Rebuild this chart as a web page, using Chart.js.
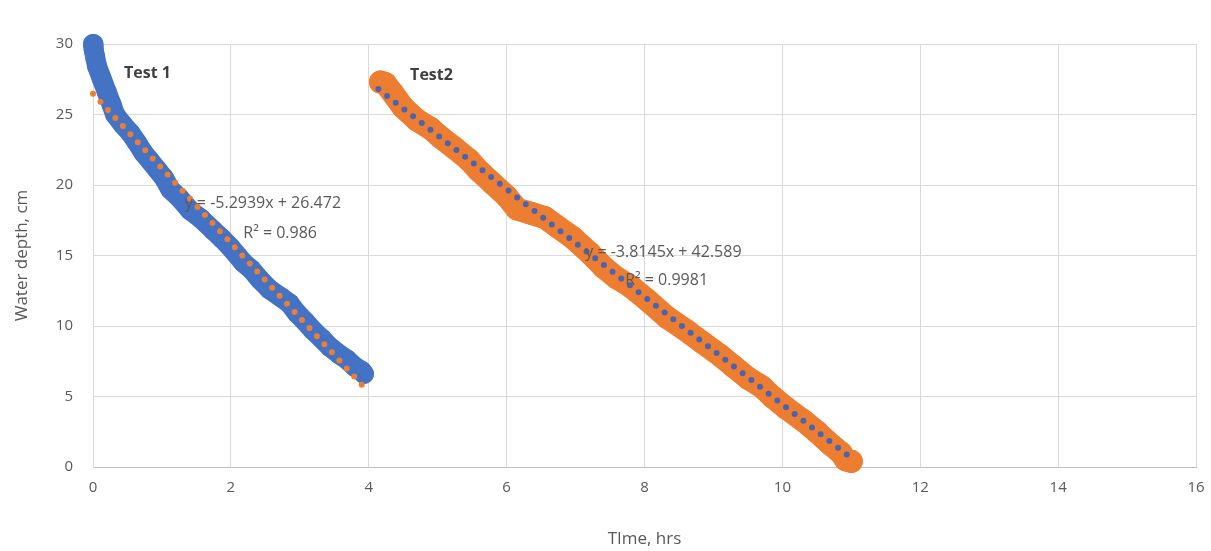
<!DOCTYPE html>
<html>
<head>
<meta charset="utf-8">
<script src="https://cdn.jsdelivr.net/npm/chart.js@4/dist/chart.umd.min.js"></script>
<style>
  html, body { margin: 0; padding: 0; background: #fff; }
  #wrap { width: 1211px; height: 551px; }
</style>
</head>
<body>
<div id="wrap"><canvas id="c" width="1211" height="551"></canvas></div>
<script>
// Test 1 (blue)
const test1X = [0.0, 0.01, 0.03, 0.06, 0.13, 0.2, 0.27, 0.32, 0.43, 0.54, 0.64, 0.73, 0.83, 0.93, 1.03, 1.12, 1.25, 1.41, 1.57, 1.74, 1.87, 1.99, 2.18, 2.3, 2.42, 2.56, 2.71, 2.85, 2.96, 3.08, 3.19, 3.32, 3.44, 3.57, 3.69, 3.8, 3.9, 3.93];
const test1Y = [30.0, 29.6, 29.1, 28.4, 27.5, 26.6, 25.7, 25.0, 24.3, 23.7, 23.0, 22.3, 21.7, 21.1, 20.5, 19.7, 19.1, 18.2, 17.6, 16.8, 16.2, 15.6, 14.5, 14.0, 13.3, 12.6, 12.1, 11.6, 10.9, 10.3, 9.7, 9.1, 8.5, 8.0, 7.6, 7.1, 6.8, 6.6];

// Test2 (orange)
const test2X = [4.17, 4.24, 4.35, 4.5, 4.7, 4.9, 5.04, 5.25, 5.45, 5.6, 5.8, 6.0, 6.15, 6.35, 6.55, 6.75, 6.95, 7.2, 7.4, 7.6, 7.8, 8.05, 8.33, 8.6, 8.85, 9.1, 9.3, 9.5, 9.7, 9.85, 10.05, 10.3, 10.5, 10.7, 10.85, 10.92, 11.0];
const test2Y = [27.3, 27.2, 26.5, 25.5, 24.6, 24.0, 23.4, 22.6, 21.8, 21.0, 20.1, 19.2, 18.3, 18.0, 17.7, 17.0, 16.3, 15.2, 14.2, 13.4, 12.8, 11.8, 10.6, 9.7, 8.8, 7.9, 7.1, 6.3, 5.7, 5.0, 4.2, 3.3, 2.5, 1.6, 1.0, 0.5, 0.4];

// linear trendlines (end points)
const trend1X = [0.0, 3.96];
const trend1Y = [26.47, 5.51];
const trend2X = [4.14, 10.95];
const trend2Y = [26.8, 0.82];

const xTicks = [0, 2, 4, 6, 8, 10, 12, 14, 16];
const yTicks = [0, 5, 10, 15, 20, 25, 30];

const labels = [
  { text: 'Test 1', x: 0.45, y: 27.9, bold: true },
  { text: 'Test2', x: 4.6, y: 27.8, bold: true },
  { text: 'y = -5.2939x + 26.472', x: 1.33, y: 18.7 },
  { text: 'R² = 0.986', x: 2.18, y: 16.6 },
  { text: 'y = -3.8145x + 42.589', x: 7.14, y: 15.2 },
  { text: 'R² = 0.9981', x: 7.72, y: 13.2 }
];

const FONT = "'Open Sans', sans-serif";
const BLUE = '#4472C4';
const ORANGE = '#ED7D31';

function pts(xs, ys) {
  return xs.map((x, i) => ({ x: x, y: ys[i] }));
}

const textPlugin = {
  id: 'chartText',
  afterDatasetsDraw(chart) {
    const ctx = chart.ctx;
    const sx = chart.scales.x, sy = chart.scales.y;
    ctx.save();
    ctx.textBaseline = 'middle';
    ctx.textAlign = 'left';
    labels.forEach(l => {
      ctx.font = (l.bold ? 'bold 16px ' : '16px ') + FONT;
      ctx.fillStyle = l.bold ? '#404040' : '#595959';
      ctx.fillText(l.text, sx.getPixelForValue(l.x), sy.getPixelForValue(l.y));
    });
    ctx.restore();
  }
};

new Chart(document.getElementById('c'), {
  type: 'scatter',
  data: {
    datasets: [
      {
        label: 'Linear (Test 1)',
        data: pts(trend1X, trend1Y),
        showLine: true,
        borderColor: ORANGE,
        borderWidth: 6,
        borderDash: [0, 11],
        borderCapStyle: 'round',
        pointRadius: 0,
        clip: false,
        order: 0
      },
      {
        label: 'Linear (Test2)',
        data: pts(trend2X, trend2Y),
        showLine: true,
        borderColor: '#4a64b0',
        borderWidth: 6,
        borderDash: [0, 11],
        borderCapStyle: 'round',
        pointRadius: 0,
        clip: false,
        order: 0
      },
      {
        label: 'Test 1',
        data: pts(test1X, test1Y),
        showLine: true,
        borderColor: BLUE,
        backgroundColor: BLUE,
        borderWidth: 20,
        borderCapStyle: 'round',
        borderJoinStyle: 'round',
        pointRadius: 10,
        pointBorderWidth: 0,
        clip: false,
        order: 1
      },
      {
        label: 'Test2',
        data: pts(test2X, test2Y),
        showLine: true,
        borderColor: ORANGE,
        backgroundColor: ORANGE,
        borderWidth: 23,
        borderCapStyle: 'round',
        borderJoinStyle: 'round',
        pointRadius: 11.5,
        pointBorderWidth: 0,
        clip: false,
        order: 1
      }
    ]
  },
  options: {
    responsive: false,
    animation: false,
    events: [],
    layout: { padding: { top: 44, right: 15, left: 0, bottom: 0 } },
    plugins: {
      legend: { display: false },
      tooltip: { enabled: false }
    },
    scales: {
      x: {
        type: 'linear',
        min: 0,
        max: 16,
        afterBuildTicks: s => { s.ticks = xTicks.map(v => ({ value: v })); },
        afterFit: s => { s.height = 84; s.paddingRight = 0; s.paddingLeft = 0; },
        grid: { color: '#d9d9d9', drawTicks: false },
        border: { color: '#bfbfbf' },
        ticks: { color: '#595959', font: { family: FONT, size: 15 }, padding: 12 },
        title: { display: true, text: 'TIme, hrs', color: '#595959', font: { family: FONT, size: 17 }, padding: { top: 4, bottom: 2 } }
      },
      y: {
        type: 'linear',
        min: 0,
        max: 30,
        afterBuildTicks: s => { s.ticks = yTicks.map(v => ({ value: v })); },
        afterFit: s => { s.width = 93; s.paddingTop = 0; s.paddingBottom = 0; },
        grid: { color: '#d9d9d9', drawTicks: false },
        border: { color: '#d9d9d9' },
        ticks: { color: '#595959', font: { family: FONT, size: 15 }, padding: 20 },
        title: { display: true, text: 'Water depth, cm', color: '#595959', font: { family: FONT, size: 17 }, padding: { top: 12, bottom: 4 } }
      }
    }
  },
  plugins: [textPlugin]
});
</script>
</body>
</html>
